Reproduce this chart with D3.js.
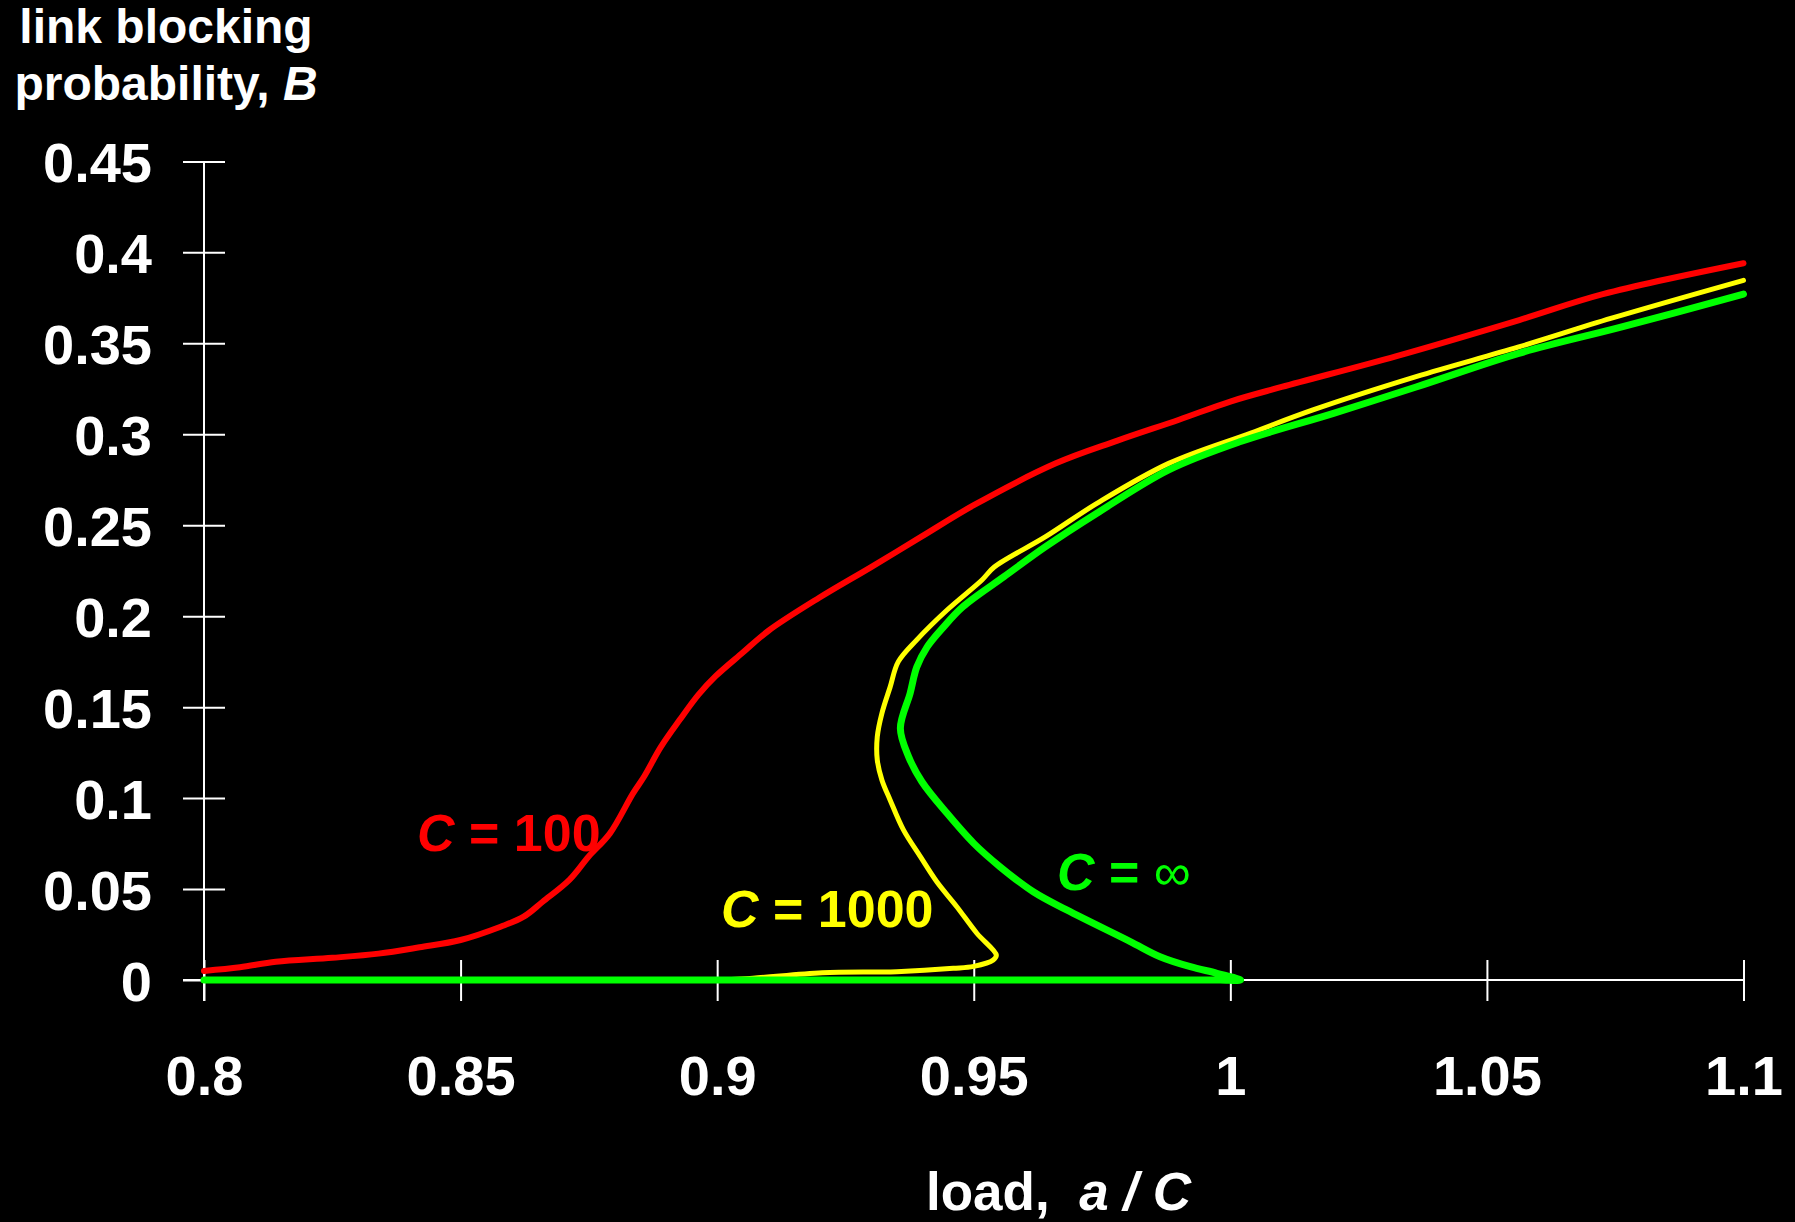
<!DOCTYPE html>
<meta charset="utf-8">
<style>
body { margin: 0; background: #000; }
svg { display: block; background: #000; }
.axis line, .axis path { stroke: #fff; stroke-width: 2px; }
.axis text {
  fill: #fff;
  font-family: "Liberation Sans", Arial, sans-serif;
  font-weight: bold;
  font-size: 56px;
}
.title {
  fill: #fff;
  font-family: "Liberation Sans", Arial, sans-serif;
  font-weight: bold;
}
.curve { fill: none; stroke-linejoin: round; stroke-linecap: round; }
.curveLabel {
  font-family: "Liberation Sans", Arial, sans-serif;
  font-weight: bold;
  font-size: 52px;
}
</style>
<body>
<script src="https://d3js.org/d3.v7.min.js"></script>
<script>
// values
const xTicks = [0.8, 0.85, 0.9, 0.95, 1, 1.05, 1.1];
const yTicks = [0, 0.05, 0.1, 0.15, 0.2, 0.25, 0.3, 0.35, 0.4, 0.45];

// C = 100
const redLoad = [0.8, 0.807, 0.814, 0.825, 0.834, 0.842, 0.85, 0.8578, 0.8623, 0.866, 0.8712, 0.875, 0.8791, 0.8836, 0.8858, 0.889, 0.8927, 0.8964, 0.8997, 0.905, 0.91, 0.9198, 0.93, 0.9398, 0.95, 0.966, 0.978, 0.99, 1.0, 1.01, 1.0324, 1.0563, 1.0726, 1.1];
const redB = [0.005, 0.007, 0.010, 0.0122, 0.0145, 0.018, 0.022, 0.0293, 0.0348, 0.043, 0.055, 0.068, 0.0806, 0.1026, 0.112, 0.128, 0.143, 0.157, 0.167, 0.18, 0.192, 0.21, 0.227, 0.2437, 0.261, 0.284, 0.2965, 0.308, 0.318, 0.326, 0.343, 0.3628, 0.377, 0.394];

// C = 1000
const yellowLoad = [0.8, 0.85, 0.9, 0.907, 0.9205, 0.935, 0.946, 0.95, 0.9538, 0.9544, 0.9506, 0.9467, 0.9428, 0.9396, 0.9363, 0.9337, 0.9321, 0.9312, 0.9312, 0.9321, 0.9337, 0.9353, 0.9389, 0.9448, 0.9516, 0.954, 0.964, 0.974, 0.988, 1.004, 1.0161, 1.0362, 1.0562, 1.0743, 1.1];
const yellowB = [0, 0, 0, 0.001, 0.004, 0.0046, 0.0064, 0.0075, 0.011, 0.0137, 0.0257, 0.0403, 0.054, 0.0678, 0.0825, 0.099, 0.11, 0.121, 0.1337, 0.1466, 0.161, 0.175, 0.187, 0.2034, 0.2199, 0.227, 0.2437, 0.262, 0.284, 0.3007, 0.3134, 0.3317, 0.348, 0.3638, 0.3846];

// C = infinity
const greenLoad = [0.8, 0.85, 0.9, 0.95, 0.99, 0.998, 1.002, 0.9974, 0.9922, 0.9863, 0.9805, 0.9681, 0.9616, 0.9551, 0.95, 0.9448, 0.9399, 0.9373, 0.9357, 0.9376, 0.9389, 0.9409, 0.9441, 0.9479, 0.9559, 0.964, 0.974, 0.988, 1.002, 1.0201, 1.0362, 1.0562, 1.0763, 1.1];
const greenB = [0, 0, 0, 0, 0, 0, 0, 0.0037, 0.0073, 0.0128, 0.0211, 0.0385, 0.0485, 0.0623, 0.0751, 0.0916, 0.109, 0.1228, 0.1384, 0.1576, 0.172, 0.183, 0.194, 0.2052, 0.2217, 0.2382, 0.2566, 0.2804, 0.296, 0.3115, 0.326, 0.3445, 0.359, 0.377];

const width = 1795, height = 1222;

const svg = d3.select('body')
  .append('svg')
  .attr('width', width)
  .attr('height', height);

const x = d3.scaleLinear().domain([0.8, 1.1]).range([204, 1743.5]);
const y = d3.scaleLinear().domain([0, 0.45]).range([980, 161.4]);

// y axis : ticks cross the line
const yAxis = svg.append('g')
  .attr('class', 'axis')
  .attr('transform', 'translate(' + x(0.8) + ',0)')
  .call(d3.axisLeft(y).tickValues(yTicks).tickSizeOuter(0).tickSize(20).tickPadding(32)
    .tickFormat(d3.format('')));
yAxis.select('.domain').remove();
yAxis.selectAll('.tick line').attr('x1', -21).attr('x2', 21);
yAxis.selectAll('.tick text').attr('dy', '0.36em');
yAxis.append('line')
  .attr('x1', 0).attr('x2', 0)
  .attr('y1', y(0.45)).attr('y2', y(0) + 21);

// x axis
const xAxis = svg.append('g')
  .attr('class', 'axis')
  .attr('transform', 'translate(0,' + y(0) + ')')
  .call(d3.axisBottom(x).tickValues(xTicks).tickSizeOuter(0).tickSize(21)
    .tickFormat(d3.format('')));
xAxis.select('.domain').remove();
xAxis.selectAll('.tick line').attr('y1', -20).attr('y2', 21);
xAxis.selectAll('.tick text').attr('y', 115).attr('dy', 0);
xAxis.append('line')
  .attr('x1', x(0.8) - 21).attr('x2', x(1.1))
  .attr('y1', 0).attr('y2', 0);

// curves
const line = d3.line()
  .x(function (d) { return x(d[0]); })
  .y(function (d) { return y(d[1]); })
  .curve(d3.curveCatmullRom.alpha(0.5));

const series = [
  {load: redLoad, b: redB, color: '#ff0000', w: 6},
  {load: yellowLoad, b: yellowB, color: '#ffff00', w: 5},
  {load: greenLoad, b: greenB, color: '#00ff00', w: 7}
];

svg.append('g').selectAll('path')
  .data(series)
  .enter().append('path')
  .attr('class', 'curve')
  .attr('stroke', function (d) { return d.color; })
  .attr('stroke-width', function (d) { return d.w; })
  .attr('d', function (d) { return line(d.load.map(function (v, i) { return [v, d.b[i]]; })); });

// curve labels
function curveLabel(xpos, ypos, color, rest, sym) {
  const t = svg.append('text')
    .attr('class', 'curveLabel')
    .attr('x', xpos).attr('y', ypos)
    .attr('fill', color);
  t.append('tspan').style('font-style', 'italic').text('C');
  t.append('tspan').text(' = ' + rest);
  if (sym) t.append('tspan').style('font-weight', 'normal').text(sym);
}
curveLabel(417, 851, '#ff0000', '100');
curveLabel(721, 927, '#ffff00', '1000');
curveLabel(1057, 890, '#00ff00', '', '\u221e');

// axis titles
const yTitle = svg.append('text')
  .attr('class', 'title')
  .attr('text-anchor', 'middle')
  .style('font-size', '48px');
yTitle.append('tspan').attr('x', 166).attr('y', 43).text('link blocking');
const l2 = yTitle.append('tspan').attr('x', 166).attr('y', 100);
l2.append('tspan').text('probability, ');
l2.append('tspan').style('font-style', 'italic').text('B');

const xTitle = svg.append('text')
  .attr('class', 'title')
  .attr('x', 926).attr('y', 1210)
  .style('font-size', '53px')
  .attr('xml:space', 'preserve');
xTitle.append('tspan').text('load,  ');
xTitle.append('tspan').style('font-style', 'italic').text('a / C');
</script>
</body>
